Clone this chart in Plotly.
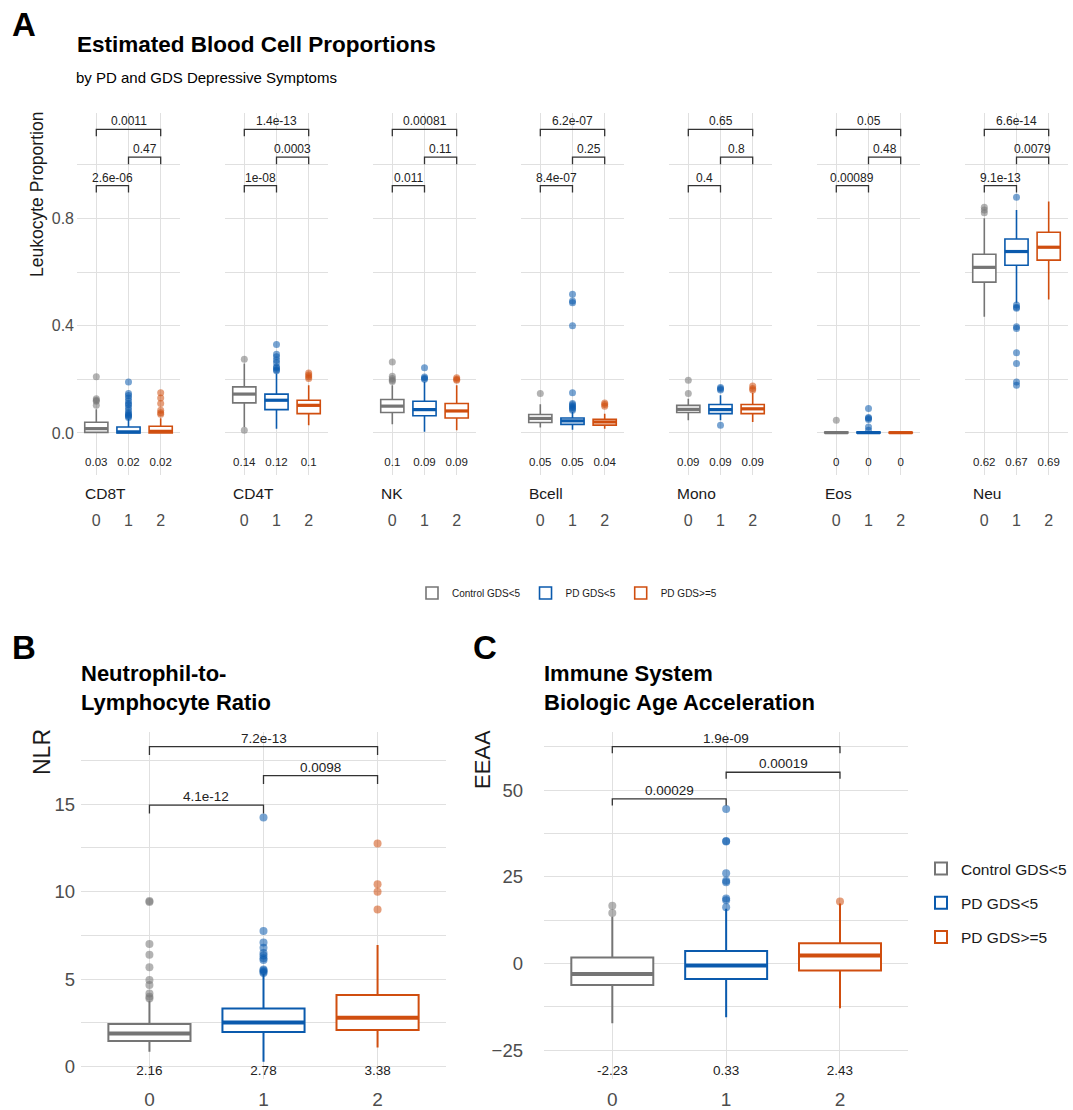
import plotly.graph_objects as go

W, H = 1073, 1110
def px(x): return x / W
def py(y): return 1 - y / H

FONT = "Liberation Sans, Arial, sans-serif"

groups = ["Control GDS<5", "PD GDS<5", "PD GDS>=5"]
colors = ["#757575", "#0A5AAD", "#D04E0F"]
positions = [0, 1, 2]

# ---------------- Panel A data ----------------
cells = ["CD8T", "CD4T", "NK", "Bcell", "Mono", "Eos", "Neu"]
a_q1 = [[0.002, 0.0, 0.0], [0.112, 0.087, 0.072], [0.076, 0.064, 0.056], [0.039, 0.032, 0.029],
        [0.076, 0.072, 0.072], [0.0, 0.0, 0.0], [0.563, 0.626, 0.645]]
a_med = [[0.016, 0.004, 0.006], [0.145, 0.122, 0.103], [0.100, 0.087, 0.082], [0.054, 0.045, 0.041],
         [0.088, 0.087, 0.090], [0.001, 0.001, 0.001], [0.618, 0.677, 0.693]]
a_q3 = [[0.040, 0.022, 0.025], [0.172, 0.145, 0.122], [0.125, 0.118, 0.110], [0.069, 0.056, 0.051],
        [0.103, 0.106, 0.106], [0.003, 0.003, 0.002], [0.667, 0.724, 0.749]]
a_lo = [[0.0, 0.0, 0.0], [0.022, 0.016, 0.029], [0.032, 0.004, 0.010], [0.020, 0.012, 0.016],
        [0.047, 0.047, 0.041], [0.0, 0.0, 0.0], [0.434, 0.486, 0.498]]
a_hi = [[0.088, 0.053, 0.055], [0.259, 0.222, 0.178], [0.178, 0.190, 0.178], [0.107, 0.078, 0.072],
        [0.128, 0.141, 0.150], [0.007, 0.007, 0.004], [0.801, 0.832, 0.864]]
a_out = [
    [[0.103, 0.118, 0.122, 0.128, 0.21],
     [0.058, 0.062, 0.066, 0.07, 0.075, 0.085, 0.095, 0.105, 0.11, 0.12, 0.13, 0.14, 0.147, 0.19],
     [0.07, 0.075, 0.085, 0.11, 0.13, 0.15]],
    [[0.275, 0.01],
     [0.232, 0.236, 0.242, 0.247, 0.262, 0.272, 0.284, 0.294, 0.33],
     [0.203, 0.21, 0.216, 0.224]],
    [[0.192, 0.197, 0.203, 0.212, 0.265],
     [0.2, 0.204, 0.209, 0.243],
     [0.197, 0.2, 0.206]],
    [[0.147],
     [0.085, 0.09, 0.095, 0.1, 0.105, 0.11, 0.15, 0.4, 0.486, 0.492, 0.518],
     [0.1, 0.106, 0.112]],
    [[0.147, 0.197],
     [0.16, 0.165, 0.17, 0.029],
     [0.16, 0.166, 0.175]],
    [[0.047],
     [0.01, 0.022, 0.05, 0.055, 0.058, 0.091],
     []],
    [[0.822, 0.832, 0.842],
     [0.88, 0.477, 0.469, 0.465, 0.396, 0.39, 0.299, 0.259, 0.19, 0.178],
     []],
]
a_means = [["0.03", "0.02", "0.02"], ["0.14", "0.12", "0.1"], ["0.1", "0.09", "0.09"],
           ["0.05", "0.05", "0.04"], ["0.09", "0.09", "0.09"], ["0", "0", "0"],
           ["0.62", "0.67", "0.69"]]
# p-values: [0 vs 2, 1 vs 2, 0 vs 1]
a_pvals = [["0.0011", "0.47", "2.6e-06"], ["1.4e-13", "0.0003", "1e-08"],
           ["0.00081", "0.11", "0.011"], ["6.2e-07", "0.25", "8.4e-07"],
           ["0.65", "0.8", "0.4"], ["0.05", "0.48", "0.00089"],
           ["6.6e-14", "0.0079", "9.1e-13"]]
a_yticks = [0.0, 0.4, 0.8]
a_yticklabels = ["0.0", "0.4", "0.8"]

# ---------------- Panel B data (NLR) ----------------
b_q1 = [1.47, 1.98, 2.10]
b_med = [1.90, 2.53, 2.80]
b_q3 = [2.44, 3.33, 4.10]
b_lo = [0.86, 0.29, 1.10]
b_hi = [3.75, 5.30, 6.95]
b_out = [[3.9, 4.0, 4.19, 4.67, 4.95, 5.68, 6.4, 7.01, 9.41, 9.47],
         [5.35, 5.42, 5.5, 5.55, 6.1, 6.2, 6.35, 6.5, 6.8, 7.1, 7.76, 14.24],
         [8.99, 10.0, 10.42, 12.76]]
b_means = ["2.16", "2.78", "3.38"]
b_pvals = ["7.2e-13", "0.0098", "4.1e-12"]
b_yticks = [0, 5, 10, 15]

# ---------------- Panel C data (EEAA) ----------------
c_q1 = [-6.15, -4.42, -2.02]
c_med = [-2.98, -0.58, 2.31]
c_q3 = [1.73, 3.65, 5.87]
c_lo = [-17.2, -15.5, -12.9]
c_hi = [13.5, 15.8, 17.3]
c_out = [[14.6, 16.7],
         [16.25, 18.3, 18.75, 23.5, 23.9, 26.06, 35.2, 35.4, 44.6],
         [17.9]]
c_means = ["-2.23", "0.33", "2.43"]
c_pvals = ["1.9e-09", "0.00019", "0.00029"]
c_yticks = [-25, 0, 25, 50]

# ---------------- styling constants ----------------
GRID = "#E0E0E0"
BOXW = 0.72
bracket_pairs = [(0, 2), (1, 2), (0, 1)]

fig = go.Figure()
annotations = []


def add_panel(xa, ya, q1, med, q3, lo, hi, outs, means, pvals, mean_y, br_levels, br_tick,
              lw, medw, msize, mfont, pfont, legend_name=None):
    xref = "x" + ("" if xa == 1 else str(xa))
    yref = "y" + ("" if ya == 1 else str(ya))
    for g in range(3):
        fig.add_trace(go.Box(
            x=[positions[g]], q1=[q1[g]], median=[med[g]], q3=[q3[g]],
            lowerfence=[lo[g]], upperfence=[hi[g]], width=BOXW, whiskerwidth=0,
            fillcolor="white", line=dict(color=colors[g], width=lw), boxpoints=False,
            name=groups[g], legendgroup=groups[g],
            showlegend=legend_name is not None, legend=legend_name or "legend",
            xaxis=xref, yaxis=yref, hoverinfo="skip"))
        fig.add_trace(go.Scatter(
            x=[positions[g] - BOXW / 2, positions[g] + BOXW / 2], y=[med[g], med[g]],
            mode="lines", line=dict(color=colors[g], width=medw), showlegend=False,
            xaxis=xref, yaxis=yref, hoverinfo="skip"))
        if outs[g]:
            fig.add_trace(go.Scatter(
                x=[positions[g]] * len(outs[g]), y=outs[g], mode="markers",
                marker=dict(color=colors[g], size=msize, opacity=0.55, line=dict(width=0)),
                showlegend=False, xaxis=xref, yaxis=yref, hoverinfo="skip"))
    fig.add_trace(go.Scatter(
        x=positions, y=[mean_y] * 3, text=means, mode="text",
        textfont=dict(family=FONT, size=mfont, color="#222222"), showlegend=False,
        xaxis=xref, yaxis=yref, hoverinfo="skip"))
    for (a, b), lev, p in zip(bracket_pairs, br_levels, pvals):
        fig.add_trace(go.Scatter(
            x=[positions[a], positions[a], positions[b], positions[b]],
            y=[lev - br_tick, lev, lev, lev - br_tick], mode="lines",
            line=dict(color="#333333", width=1.3), showlegend=False,
            xaxis=xref, yaxis=yref, hoverinfo="skip"))
        annotations.append(dict(
            x=(positions[a] + positions[b]) / 2, y=lev, xref=xref, yref=yref,
            text=p, showarrow=False, yanchor="bottom", yshift=-1,
            font=dict(family=FONT, size=pfont, color="#222222")))


layout_axes = {}
A_TOP, A_BOT = 113, 475
for i, cell in enumerate(cells):
    left = 77 + 148 * i
    right = left + 103
    add_panel(i + 1, 1, a_q1[i], a_med[i], a_q3[i], a_lo[i], a_hi[i], a_out[i],
              a_means[i], a_pvals[i], -0.113, [1.133, 1.029, 0.923], 0.026,
              1.6, 3.2, 7, 11.5, 12, legend_name="legend" if i == 0 else None)
    key = "xaxis" if i == 0 else f"xaxis{i + 1}"
    layout_axes[key] = dict(
        domain=[px(left), px(right)], range=[-0.6, 2.6], anchor="y",
        tickvals=positions, ticktext=[str(p) for p in positions],
        showgrid=True, gridcolor=GRID, gridwidth=1, zeroline=False, showline=False,
        ticks="", ticklabelstandoff=34,
        tickfont=dict(family=FONT, size=16, color="#4D4D4D"))
    annotations.append(dict(
        x=px(left + 6), y=py(493), xref="paper", yref="paper", text=cell,
        showarrow=False, xanchor="left", yanchor="middle",
        font=dict(family=FONT, size=15.5, color="#1A1A1A")))

layout_axes["yaxis"] = dict(
    domain=[py(A_BOT), py(A_TOP)], range=[-0.157, 1.194], anchor="x",
    tickvals=a_yticks, ticktext=a_yticklabels, showgrid=True, gridcolor=GRID,
    minor=dict(tickvals=[0.2, 0.6, 1.0], showgrid=True, gridcolor=GRID, gridwidth=1),
    zeroline=False, showline=False, ticks="", ticklabelstandoff=2,
    tickfont=dict(family=FONT, size=16, color="#4D4D4D"))

# Panel B
BC_TOP, BC_BOT = 731.7, 1079
add_panel(8, 2, b_q1, b_med, b_q3, b_lo, b_hi, b_out, b_means, b_pvals, -0.3,
          [18.29, 16.63, 14.95], 0.48, 2.0, 4.0, 8, 13.5, 13.5, legend_name="legend2")
layout_axes["xaxis8"] = dict(
    domain=[px(81), px(446)], range=[-0.6, 2.6], anchor="y2",
    tickvals=positions, ticktext=[str(p) for p in positions],
    showgrid=True, gridcolor=GRID, zeroline=False, showline=False, ticks="",
    ticklabelstandoff=7, tickfont=dict(family=FONT, size=19, color="#4D4D4D"))
layout_axes["yaxis2"] = dict(
    domain=[py(BC_BOT), py(BC_TOP)], range=[-0.70, 19.14], anchor="x8",
    tickvals=b_yticks, showgrid=True, gridcolor=GRID,
    minor=dict(tickvals=[2.5, 7.5, 12.5, 17.5], showgrid=True, gridcolor=GRID, gridwidth=1),
    zeroline=False, showline=False, ticks="", ticklabelstandoff=5,
    tickfont=dict(family=FONT, size=18.5, color="#4D4D4D"))

# Panel C
add_panel(9, 3, c_q1, c_med, c_q3, c_lo, c_hi, c_out, c_means, c_pvals, -31.2,
          [62.6, 55.2, 47.5], 1.9, 2.0, 4.0, 8, 13.5, 13.5)
layout_axes["xaxis9"] = dict(
    domain=[px(544), px(908.3)], range=[-0.6, 2.6], anchor="y3",
    tickvals=positions, ticktext=[str(p) for p in positions],
    showgrid=True, gridcolor=GRID, zeroline=False, showline=False, ticks="",
    ticklabelstandoff=7, tickfont=dict(family=FONT, size=19, color="#4D4D4D"))
layout_axes["yaxis3"] = dict(
    domain=[py(BC_BOT), py(BC_TOP)], range=[-33.3, 66.9], anchor="x9",
    tickvals=c_yticks, showgrid=True, gridcolor=GRID,
    minor=dict(tickvals=[-12.5, 12.5, 37.5, 62.5], showgrid=True, gridcolor=GRID, gridwidth=1),
    zeroline=False, showline=False, ticks="", ticklabelstandoff=20,
    tickfont=dict(family=FONT, size=18.5, color="#4D4D4D"))

# Titles and labels
def txt(x, y, s, size, bold=False, anchor="left", angle=0, color="#000000"):
    annotations.append(dict(
        x=px(x), y=py(y), xref="paper", yref="paper",
        text=f"<b>{s}</b>" if bold else s, showarrow=False, xanchor=anchor,
        yanchor="middle", textangle=angle, align="left",
        font=dict(family=FONT, size=size, color=color)))

txt(10, 25, "A", 33, bold=True)
txt(75, 44, "Estimated Blood Cell Proportions", 22.5, bold=True)
txt(74, 78, "by PD and GDS Depressive Symptoms", 15)
txt(37, 195, "Leukocyte Proportion", 17.5, anchor="center", angle=-90, color="#1A1A1A")

txt(10, 647, "B", 33, bold=True)
txt(79, 688, "Neutrophil-to-<br>Lymphocyte Ratio", 22, bold=True)
txt(42, 752, "NLR", 23, anchor="center", angle=-90, color="#1A1A1A")

txt(471, 647, "C", 33, bold=True)
txt(542, 688, "Immune System<br>Biologic Age Acceleration", 22, bold=True)
txt(482, 760, "EEAA", 22, anchor="center", angle=-90, color="#1A1A1A")

fig.update_layout(
    width=W, height=H, autosize=False,
    margin=dict(l=0, r=0, t=0, b=0),
    paper_bgcolor="white", plot_bgcolor="white",
    font=dict(family=FONT, color="#1A1A1A"),
    annotations=annotations,
    legend=dict(orientation="h", x=px(567), xanchor="center", y=py(593), yanchor="middle",
                font=dict(family=FONT, size=10, color="#1A1A1A"), bgcolor="rgba(0,0,0,0)"),
    legend2=dict(orientation="v", x=px(921), xanchor="left", y=py(852), yanchor="top",
                 font=dict(family=FONT, size=15.5, color="#1A1A1A"), tracegroupgap=11,
                 bgcolor="rgba(0,0,0,0)"),
    **layout_axes,
)

fig.write_html("out.html", config={"displayModeBar": False},
               post_script="document.body.style.margin='0';document.body.style.overflow='hidden';")
